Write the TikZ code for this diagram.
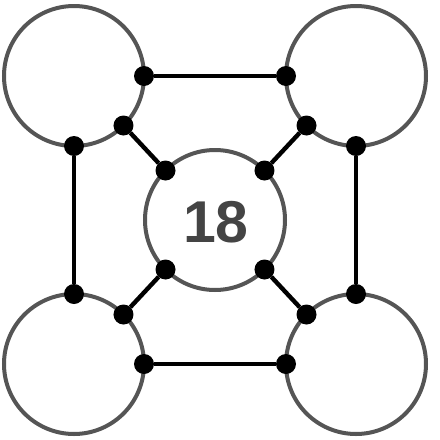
\documentclass[tikz,border=0pt]{standalone}
\usepackage{fontspec}
\setmainfont{Liberation Sans}
\definecolor{ringgray}{HTML}{555555}
\definecolor{numgray}{HTML}{444444}
\begin{document}
\begin{tikzpicture}[x=1pt,y=-1pt,
  ring/.style={circle,draw=ringgray,line width=4pt,minimum size=140pt,inner sep=0pt,outer sep=0pt,fill=white},
  dot/.style={circle,fill=black,minimum size=20pt,inner sep=0pt,outer sep=0pt},
  link/.style={line width=4.4pt,black}]
\useasboundingbox (0,0) rectangle (440,440);
\node[ring] (tl) at (74,76) {};
\node[ring] (tr) at (356,76) {};
\node[ring] (bl) at (74,364) {};
\node[ring] (br) at (356,364) {};
\node[ring] (c) at (215,220) {};
\node[font=\bfseries\fontsize{59}{61}\selectfont, text=numgray, inner sep=0pt] (num) at (216,222) {18};
% dots
\node[dot] (tle) at (tl.east) {};
\node[dot] (tls) at (tl.south) {};
\node[dot] (tlse) at (tl.south east) {};
\node[dot] (trw) at (tr.west) {};
\node[dot] (trs) at (tr.south) {};
\node[dot] (trsw) at (tr.south west) {};
\node[dot] (bln) at (bl.north) {};
\node[dot] (ble) at (bl.east) {};
\node[dot] (blne) at (bl.north east) {};
\node[dot] (brn) at (br.north) {};
\node[dot] (brw) at (br.west) {};
\node[dot] (brnw) at (br.north west) {};
\node[dot] (cnw) at (c.north west) {};
\node[dot] (cne) at (c.north east) {};
\node[dot] (csw) at (c.south west) {};
\node[dot] (cse) at (c.south east) {};
% links
\draw[link] (tle) -- (trw);
\draw[link] (ble) -- (brw);
\draw[link] (tls) -- (bln);
\draw[link] (trs) -- (brn);
\draw[link] (tlse) -- (cnw);
\draw[link] (trsw) -- (cne);
\draw[link] (blne) -- (csw);
\draw[link] (brnw) -- (cse);
\end{tikzpicture}
\end{document}
